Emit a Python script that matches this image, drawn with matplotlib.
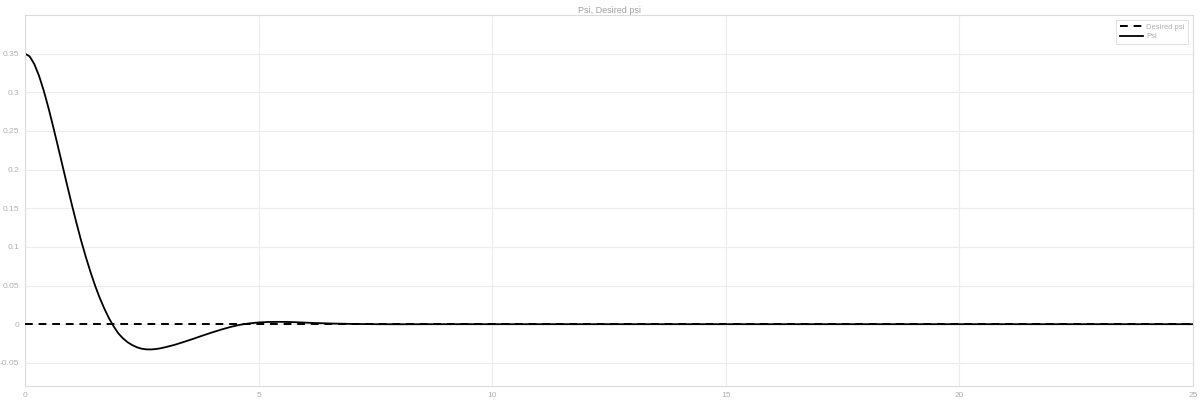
import matplotlib
matplotlib.use("Agg")
import matplotlib.pyplot as plt

# Yaw angle response versus its set point
t = [0.0, 0.1, 0.2, 0.3, 0.4, 0.5, 0.6, 0.7, 0.8, 0.9, 1.0, 1.1, 1.2, 1.3,
     1.4, 1.5, 1.6, 1.7, 1.8, 1.9, 2.0, 2.1, 2.2, 2.3, 2.4, 2.5, 2.6, 2.7,
     2.8, 2.9, 3.0, 3.2, 3.4, 3.6, 3.8, 4.0, 4.2, 4.4, 4.6, 4.8, 5.0, 5.2,
     5.4, 5.6, 5.8, 6.0, 6.2, 6.6, 7.0, 7.5, 8.0, 9.0, 10.0, 15.0, 20.0, 25.0]
psi = [0.3500, 0.3465, 0.3365, 0.3215, 0.3025, 0.2805, 0.2565, 0.2315,
       0.2060, 0.1805, 0.1555, 0.1315, 0.1085, 0.0875, 0.0680, 0.0500,
       0.0340, 0.0200, 0.0075, -0.0030, -0.0120, -0.0185, -0.0235, -0.0272,
       -0.0300, -0.0318, -0.0326, -0.0327, -0.0322, -0.0312, -0.0299,
       -0.0268, -0.0230, -0.0190, -0.0148, -0.0108, -0.0070, -0.0036,
       -0.0008, 0.0010, 0.0022, 0.0028, 0.0030, 0.0029, 0.0025, 0.0020,
       0.0015, 0.0008, 0.0003, 0.0000, -0.0001, 0.0, 0.0, 0.0, 0.0, 0.0]
t_desired = [0.0, 25.0]
psi_desired = [0.0, 0.0]

x_ticks = [0, 5, 10, 15, 20, 25]
y_ticks = [-0.05, 0, 0.05, 0.1, 0.15, 0.2, 0.25, 0.3, 0.35]
y_tick_labels = ["-0.05", "0", "0.05", "0.1", "0.15", "0.2", "0.25", "0.3", "0.35"]

plt.rcParams["font.family"] = ["Liberation Sans", "DejaVu Sans"]

fig = plt.figure(figsize=(12, 4.01), dpi=100)
ax = fig.add_axes([0.0208, 0.0374, 0.9734, 0.9252])

ax.plot(t_desired, psi_desired, color="black", linestyle=(0, (4, 3)),
        linewidth=1.4, label="Desired psi", zorder=3)
ax.plot(t, psi, color="black", linewidth=1.3, label="Psi", zorder=2)

ax.set_xlim(0, 25)
ax.set_ylim(-0.08, 0.4)
ax.set_xticks(x_ticks)
ax.set_yticks(y_ticks)
ax.set_yticklabels(y_tick_labels)
ax.tick_params(axis="both", length=0, labelsize=6, labelcolor="#b0b0b0", pad=4)
ax.grid(True, color="#ececec", linewidth=0.8)
ax.set_axisbelow(True)
for s in ax.spines.values():
    s.set_color("#dcdcdc")
    s.set_linewidth(0.8)

ax.set_title("Psi, Desired psi", fontsize=6.5, color="#a0a0a0", pad=1.5)

leg = ax.legend(loc="upper right", fontsize=5.5, frameon=True, fancybox=False,
                handlelength=3, borderpad=0.5, labelspacing=0.3,
                handletextpad=0.4, borderaxespad=0.6)
leg.get_frame().set_edgecolor("#dcdcdc")
leg.get_frame().set_linewidth(0.8)
for txt in leg.get_texts():
    txt.set_color("#b0b0b0")

fig.savefig("out.png", dpi=100)
